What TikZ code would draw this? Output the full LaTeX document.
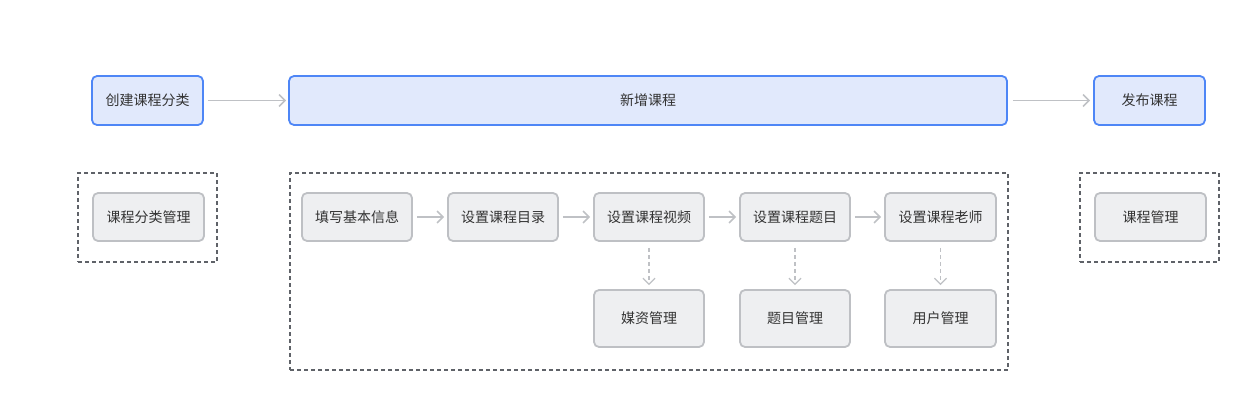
\documentclass[tikz,border=0pt]{standalone}
\usepackage{fontspec}
\setmainfont{Noto Sans CJK SC}
\usetikzlibrary{arrows.meta}
\definecolor{bluefill}{HTML}{E1E9FC}
\definecolor{blueline}{HTML}{4E86F6}
\definecolor{grayfill}{HTML}{EEEFF1}
\definecolor{grayline}{HTML}{BEC0C4}
\definecolor{dashline}{HTML}{5F6268}
\definecolor{arrowcol}{HTML}{BFC1C5}
\definecolor{textcol}{HTML}{333333}
\begin{document}
\begin{tikzpicture}[x=1pt,y=-1pt,
  font=\fontsize{14pt}{16pt}\selectfont,
  bluebox/.style={draw=blueline,fill=bluefill,line width=1.8pt,rounded corners=5pt,text=textcol},
  graybox/.style={draw=grayline,fill=grayfill,line width=1.8pt,rounded corners=5pt,text=textcol},
  groupbox/.style={draw=dashline,line width=1.6pt,dash pattern=on 4pt off 3pt},
  flow/.style={draw=arrowcol,line width=1.5pt,-{Straight Barb[length=6pt,width=12pt,line width=1.5pt]}},
  dflow/.style={draw=arrowcol,line width=1.3pt,dash pattern=on 4pt off 3pt,-{Straight Barb[length=6pt,width=12pt,line width=1.3pt]}}
]
\useasboundingbox (0,0) rectangle (1255,412);
% helper macro for boxes
\newcommand{\mybox}[7]{\node[#1,minimum width=#4-#3,minimum height=#6-#5,inner sep=0pt] (#2) at ({(#3+#4)/2},{(#5+#6)/2}) {#7};}
% top row
\mybox{bluebox}{a}{92}{203}{76}{125}{创建课程分类}
\mybox{bluebox}{b}{289}{1007}{76}{125}{新增课程}
\mybox{bluebox}{c}{1094}{1205}{76}{125}{发布课程}
\draw[flow] ([xshift=4pt]a.east) -- ([xshift=-2pt]b.west);
\draw[flow] ([xshift=5pt]b.east) -- ([xshift=-3pt]c.west);
% group boxes
\node[groupbox,minimum width=139,minimum height=89,inner sep=0pt] (g1) at (147.5,217.5) {};
\node[groupbox,minimum width=718,minimum height=197,inner sep=0pt] (g2) at (649,271.5) {};
\node[groupbox,minimum width=139,minimum height=89,inner sep=0pt] (g3) at (1149.5,217.5) {};
% second row
\mybox{graybox}{m1}{93}{204}{193}{241}{课程分类管理}
\mybox{graybox}{s1}{302}{412}{193}{241}{填写基本信息}
\mybox{graybox}{s2}{448}{558}{193}{241}{设置课程目录}
\mybox{graybox}{s3}{594}{704}{193}{241}{设置课程视频}
\mybox{graybox}{s4}{740}{850}{193}{241}{设置课程题目}
\mybox{graybox}{s5}{885}{996}{193}{241}{设置课程老师}
\mybox{graybox}{m3}{1095}{1206}{193}{241}{课程管理}
% third row
\mybox{graybox}{t3}{594}{704}{290}{347}{媒资管理}
\mybox{graybox}{t4}{740}{850}{290}{347}{题目管理}
\mybox{graybox}{t5}{885}{996}{290}{347}{用户管理}
% horizontal arrows
\draw[flow] ([xshift=4pt]s1.east) -- ([xshift=-3pt]s2.west);
\draw[flow] ([xshift=4pt]s2.east) -- ([xshift=-3pt]s3.west);
\draw[flow] ([xshift=4pt]s3.east) -- ([xshift=-3pt]s4.west);
\draw[flow] ([xshift=4pt]s4.east) -- ([xshift=-3pt]s5.west);
% dashed vertical arrows
\draw[dflow] ([yshift=-6pt]s3.south) -- ([yshift=4pt]t3.north);
\draw[dflow] ([yshift=-6pt]s4.south) -- ([yshift=4pt]t4.north);
\draw[dflow] ([yshift=-6pt]s5.south) -- ([yshift=4pt]t5.north);
\end{tikzpicture}
\end{document}
